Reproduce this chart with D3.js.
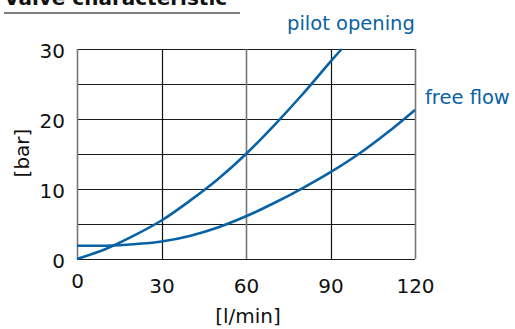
<!DOCTYPE html>
<html>
<head>
<meta charset="utf-8">
<script src="https://cdn.jsdelivr.net/npm/d3@7"></script>
<style>
  html, body { margin: 0; padding: 0; background: #fff; }
  svg { display: block; font-family: "DejaVu Sans", Verdana, sans-serif; }
</style>
</head>
<body>
<svg id="chart" width="515" height="329"></svg>
<script>
// Flow rate [l/min] and pressure [bar] for each curve
const pilotFlow = [0, 10, 20, 30, 40, 50, 60, 70, 80, 90, 94];
const pilotBar  = [0, 1.4, 3.3, 5.5, 8.3, 11.4, 15.0, 19.1, 23.5, 28.2, 30];
const freeFlow  = [0, 10, 20, 30, 40, 50, 60, 70, 80, 90, 100, 110, 120];
const freeBar   = [1.9, 1.9, 2.1, 2.5, 3.3, 4.5, 6.1, 8.0, 10.1, 12.4, 15.0, 18.0, 21.3];

const xTicks = [0, 30, 60, 90, 120];
const yTicks = [0, 10, 20, 30];
const yGrid  = [5, 15, 25];

const curves = [
  { name: "pilot opening", x: pilotFlow, y: pilotBar, lx: 287, ly: 30 },
  { name: "free flow",     x: freeFlow,  y: freeBar,  lx: 425, ly: 104 }
];

const svg = d3.select("#chart");
const blue = "#0862a4";
const fs = 20;

const x = d3.scaleLinear().domain([0, 120]).range([77, 415]);
const y = d3.scaleLinear().domain([0, 30]).range([259, 49]);

// Title (partly above the top edge) with its rule
svg.append("text")
  .attr("x", 4).attr("y", 5)
  .attr("font-size", 20).attr("font-weight", "bold")
  .attr("fill", "#111")
  .text("Valve characteristic");
svg.append("line")
  .attr("x1", 4).attr("x2", 240).attr("y1", 13).attr("y2", 13)
  .attr("stroke", "#555").attr("stroke-width", 1.5);

// Horizontal grid lines
const g = svg.append("g");
g.selectAll("line.h")
  .data(yTicks.concat(yGrid))
  .join("line")
  .attr("class", "h")
  .attr("x1", x(0)).attr("x2", x(120))
  .attr("y1", d => Math.round(y(d)) + 0.5)
  .attr("y2", d => Math.round(y(d)) + 0.5)
  .attr("stroke", "#1a1a1a").attr("stroke-width", 1.2);

// Vertical grid lines (0, 60 and 120 are drawn lighter)
g.selectAll("line.v")
  .data(xTicks)
  .join("line")
  .attr("class", "v")
  .attr("x1", d => Math.round(x(d)) + 0.5)
  .attr("x2", d => Math.round(x(d)) + 0.5)
  .attr("y1", y(30)).attr("y2", y(0))
  .attr("stroke", d => (d % 60 === 0 ? "#777" : "#111"))
  .attr("stroke-width", d => (d % 60 === 0 ? 1.6 : 1.2));

// Axes: labels only, no domain or tick marks
const xAxis = svg.append("g")
  .attr("transform", `translate(0,${y(0)})`)
  .call(d3.axisBottom(x).tickValues(xTicks).tickSize(0).tickFormat(d3.format("d")));
xAxis.select(".domain").remove();
xAxis.selectAll("text")
  .attr("font-size", fs).attr("font-family", "DejaVu Sans, Verdana, sans-serif")
  .attr("fill", "#111")
  .attr("dy", 0)
  .attr("y", d => (d === 0 ? 29 : 34));

const yAxis = svg.append("g")
  .attr("transform", `translate(${x(0) - 9},0)`)
  .call(d3.axisLeft(y).tickValues(yTicks).tickSize(0).tickFormat(d3.format("d")));
yAxis.select(".domain").remove();
yAxis.selectAll("text")
  .attr("font-size", fs).attr("font-family", "DejaVu Sans, Verdana, sans-serif")
  .attr("fill", "#111").attr("dy", "0.4em");

// Axis titles
svg.append("text")
  .attr("x", 248).attr("y", 323)
  .attr("text-anchor", "middle")
  .attr("font-size", fs).attr("fill", "#111")
  .text("[l/min]");
svg.append("text")
  .attr("transform", "translate(29,153) rotate(-90)")
  .attr("text-anchor", "middle")
  .attr("font-size", fs).attr("fill", "#111")
  .text("[bar]");

// Curves
const line = d3.line()
  .x(d => x(d[0]))
  .y(d => y(d[1]))
  .curve(d3.curveCatmullRom);

svg.selectAll("path.curve")
  .data(curves)
  .join("path")
  .attr("class", "curve")
  .attr("d", c => line(c.x.map((v, i) => [v, c.y[i]])))
  .attr("fill", "none")
  .attr("stroke", blue)
  .attr("stroke-width", 2.6);

svg.selectAll("text.curve-label")
  .data(curves)
  .join("text")
  .attr("class", "curve-label")
  .attr("x", c => c.lx).attr("y", c => c.ly)
  .attr("font-size", 19.5)
  .attr("fill", blue)
  .text(c => c.name);
</script>
</body>
</html>
